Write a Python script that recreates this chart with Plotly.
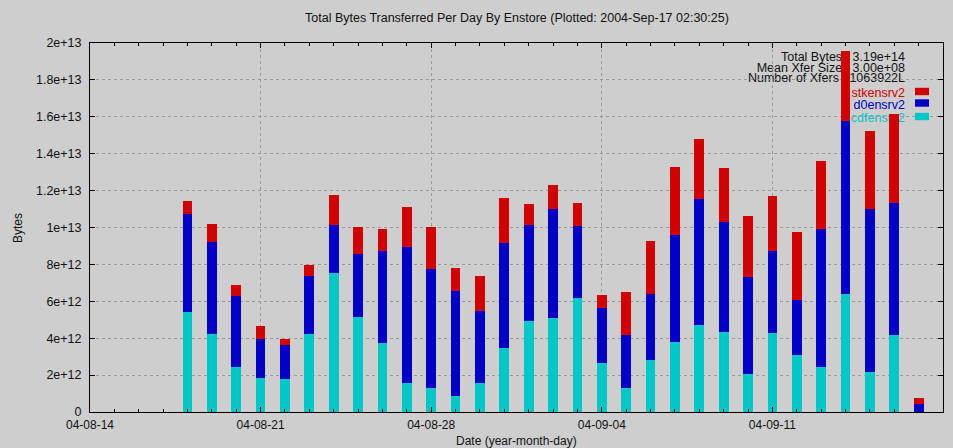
import plotly.graph_objects as go

# ---------------- data ----------------
dates = [
    "2004-08-18", "2004-08-19", "2004-08-20", "2004-08-21", "2004-08-22", "2004-08-23",
    "2004-08-24", "2004-08-25", "2004-08-26", "2004-08-27", "2004-08-28", "2004-08-29",
    "2004-08-30", "2004-08-31", "2004-09-01", "2004-09-02", "2004-09-03", "2004-09-04",
    "2004-09-05", "2004-09-06", "2004-09-07", "2004-09-08", "2004-09-09", "2004-09-10",
    "2004-09-11", "2004-09-12", "2004-09-13", "2004-09-14", "2004-09-15", "2004-09-16",
    "2004-09-17",
]

cdfensrv2 = [
    5.42e12, 4.24e12, 2.46e12, 1.86e12, 1.79e12, 4.22e12, 7.52e12, 5.16e12, 3.73e12, 1.56e12,
    1.32e12, 0.85e12, 1.59e12, 3.49e12, 4.95e12, 5.07e12, 6.16e12, 2.68e12, 1.32e12, 2.83e12,
    3.80e12, 4.73e12, 4.35e12, 2.07e12, 4.26e12, 3.10e12, 2.43e12, 6.41e12, 2.19e12, 4.17e12,
    0.02e12,
]
d0ensrv2 = [
    5.29e12, 4.98e12, 3.81e12, 2.09e12, 1.85e12, 3.17e12, 2.64e12, 3.43e12, 4.97e12, 7.39e12,
    6.45e12, 5.69e12, 3.86e12, 5.68e12, 5.18e12, 5.91e12, 3.91e12, 2.96e12, 2.86e12, 3.57e12,
    5.82e12, 6.79e12, 5.94e12, 5.27e12, 4.49e12, 2.99e12, 7.50e12, 9.37e12, 8.79e12, 7.17e12,
    0.43e12,
]
stkensrv2 = [
    0.70e12, 0.96e12, 0.63e12, 0.72e12, 0.31e12, 0.56e12, 1.58e12, 1.46e12, 1.23e12, 2.14e12,
    2.27e12, 1.27e12, 1.94e12, 2.44e12, 1.16e12, 1.34e12, 1.27e12, 0.68e12, 2.31e12, 2.89e12,
    3.66e12, 3.25e12, 2.92e12, 3.26e12, 2.97e12, 3.69e12, 3.68e12, 3.79e12, 4.26e12, 4.80e12,
    0.33e12,
]

series_names = ["cdfensrv2", "d0ensrv2", "stkensrv2"]
series_values = [cdfensrv2, d0ensrv2, stkensrv2]
series_colors = ["#00c8c8", "#0000c8", "#d20000"]

y_tickvals = [0, 2e12, 4e12, 6e12, 8e12, 1e13, 1.2e13, 1.4e13, 1.6e13, 1.8e13, 2e13]
y_ticktext = ["0", "2e+12", "4e+12", "6e+12", "8e+12", "1e+13",
              "1.2e+13", "1.4e+13", "1.6e+13", "1.8e+13", "2e+13"]

stats_lines = ["Total Bytes : 3.19e+14", "Mean Xfer Size : 3.00e+08", "Number of Xfers : 1063922L"]

title_text = "Total Bytes Transferred Per Day By Enstore (Plotted: 2004-Sep-17 02:30:25)"

# ---------------- layout geometry (pixels) ----------------
W, H = 953, 448
L, R, T, B = 90, 10, 43, 36
PW, PH = W - L - R, H - T - B
BG = "#cecece"
FONT = "Liberation Sans, Arial, Helvetica, sans-serif"
TXT = "#111111"
DAY = 86400000


def px(xp):
    return (xp - L) / PW


def py(yp):
    return (H - B - yp) / PH


fig = go.Figure()
for name, vals, col in zip(series_names, series_values, series_colors):
    fig.add_trace(go.Bar(
        x=dates, y=vals, name=name, marker=dict(color=col, line=dict(width=0)),
        width=0.4 * DAY, showlegend=False,
    ))

try:
    go.layout.Shape(layer="between")
    MID = "between"
except ValueError:
    MID = "below"

shapes = []
# key area clears the grid
shapes.append(dict(type="rect", xref="paper", yref="paper", x0=px(707), x1=1.0,
                   y0=py(123), y1=1.0, fillcolor=BG, line=dict(width=0), layer=MID))

stat_y = [55, 66, 76.5]
for s, yy in zip(stats_lines, stat_y):
    shapes.append(dict(type="rect", xref="paper", yref="paper", x0=px(700), x1=px(908),
                       y0=py(yy + 6), y1=py(yy - 6), line=dict(width=0),
                       fillcolor="rgba(0,0,0,0)", layer=MID,
                       label=dict(text=s, textposition="middle right", padding=0,
                                  font=dict(family=FONT, size=12.5, color=TXT))))

key_y = {"stkensrv2": 91.5, "d0ensrv2": 103, "cdfensrv2": 116.5}
for name, col in zip(series_names, series_colors):
    yy = key_y[name]
    shapes.append(dict(type="rect", xref="paper", yref="paper", x0=px(750), x1=px(908),
                       y0=py(yy + 6), y1=py(yy - 6), line=dict(width=0),
                       fillcolor="rgba(0,0,0,0)", layer=MID,
                       label=dict(text=name, textposition="middle right", padding=0,
                                  font=dict(family=FONT, size=12.5, color=col))))
    shapes.append(dict(type="rect", xref="paper", yref="paper", x0=px(915), x1=px(929),
                       y0=py(yy + 3.7), y1=py(yy - 3.7), line=dict(width=0),
                       fillcolor=col, layer="above"))

annotations = [
    dict(text=title_text, xref="paper", yref="paper", x=px(517), y=py(18),
         xanchor="center", yanchor="middle", showarrow=False,
         font=dict(family=FONT, size=12.5, color=TXT)),
    dict(text="Bytes", xref="paper", yref="paper", x=px(18), y=py(228),
         xanchor="center", yanchor="middle", showarrow=False, textangle=-90,
         font=dict(family=FONT, size=12, color=TXT)),
    dict(text="Date (year-month-day)", xref="paper", yref="paper", x=px(516), y=py(441),
         xanchor="center", yanchor="middle", showarrow=False,
         font=dict(family=FONT, size=12, color=TXT)),
]

fig.update_layout(
    width=W, height=H,
    margin=dict(l=L, r=R, t=T, b=B, autoexpand=False),
    paper_bgcolor=BG, plot_bgcolor=BG,
    barmode="stack", bargap=0,
    font=dict(family=FONT, size=12, color=TXT),
    shapes=shapes,
    annotations=annotations,
    xaxis=dict(
        type="date", range=["2004-08-14", "2004-09-18"], automargin=False,
        tick0="2004-08-14", dtick=7 * DAY, tickformat="%y-%m-%d",
        ticks="inside", ticklen=5, tickcolor="black", ticklabelstandoff=2,
        showline=True, linecolor="black", linewidth=1, mirror="ticks",
        showgrid=True, gridcolor="#9a9a9a", griddash="dot", gridwidth=1,
        zeroline=False,
        minor=dict(dtick=DAY, tick0="2004-08-14", ticks="inside", ticklen=3,
                   tickcolor="black", showgrid=False),
        tickfont=dict(family=FONT, size=12, color=TXT),
    ),
    yaxis=dict(
        range=[0, 2e13], tickvals=y_tickvals, ticktext=y_ticktext, automargin=False,
        ticks="inside", ticklen=5, tickcolor="black", ticklabelstandoff=5,
        showline=True, linecolor="black", linewidth=1, mirror="ticks",
        showgrid=True, gridcolor="#9a9a9a", griddash="dot", gridwidth=1,
        zeroline=False,
        tickfont=dict(family=FONT, size=12.5, color=TXT),
    ),
)

fig.write_html(
    "out.html",
    config={"displayModeBar": False},
    post_script="document.body.style.margin='0';document.body.style.padding='0';",
)
